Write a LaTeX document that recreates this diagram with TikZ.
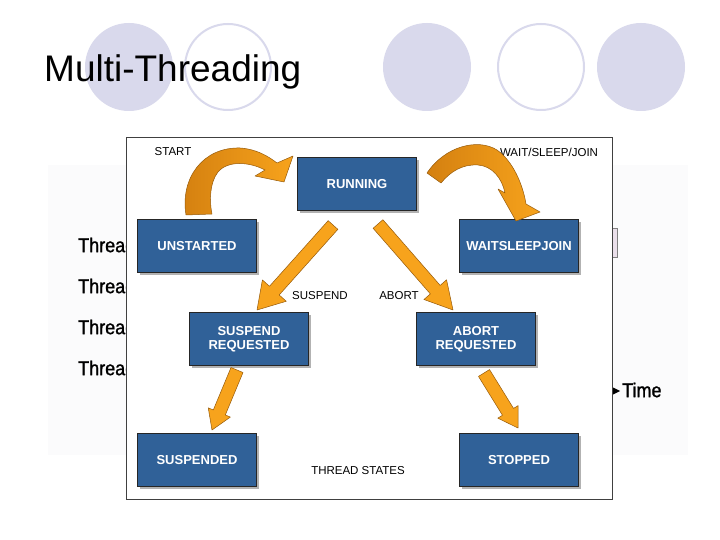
\documentclass[tikz,border=0pt]{standalone}
\usepackage{fontspec}
\setmainfont{Liberation Sans}
\newfontfamily\sidefont{Liberation Sans}[FakeBold=1.2, FakeStretch=0.9]
\usetikzlibrary{calc,shadows}
\definecolor{boxblue}{RGB}{48,97,152}
\definecolor{lav}{RGB}{217,217,236}
\definecolor{arrfillc}{RGB}{247,163,28}
\definecolor{arrdark}{RGB}{212,128,16}
\definecolor{arredge}{RGB}{150,90,10}
\definecolor{faintbg}{RGB}{251,251,252}
\newcommand{\blockarr}[5]{%
  \path ($(#2)!#5!(#1)$) coordinate (hb);
  \draw[blockarrow] ($(#1)!#3!90:(#2)$) -- ($(hb)!#3!90:(#2)$) -- ($(hb)!#4!90:(#2)$)
     -- (#2) -- ($(hb)!#4!-90:(#2)$) -- ($(hb)!#3!-90:(#2)$) -- ($(#1)!#3!-90:(#2)$) -- cycle;
}
\begin{document}
\begin{tikzpicture}[x=1pt,y=-1pt,
  statebox/.style={rectangle, minimum width=119pt, minimum height=53pt, fill=boxblue,
    draw=black!85, line width=1.4pt, text=white, align=center, inner sep=0pt,
    font=\bfseries\fontsize{13}{14}\selectfont,
    drop shadow={shadow xshift=2.5pt, shadow yshift=-2.5pt, fill=black, opacity=0.3}},
  lbl/.style={font=\fontsize{11.5}{13}\selectfont, inner sep=0pt},
  sidelbl/.style={font=\sidefont\fontsize{20}{22}\selectfont, inner sep=0pt, anchor=west},
  blockarrow/.style={fill=arrfillc, draw=arredge, line width=0.5pt, line join=round},
  curvearrow/.style={left color=arrdark, right color=arrfillc, draw=arredge, line width=0.5pt, line join=round},
  fullcirc/.style={fill=lav},
  opencirc/.style={draw=lav, line width=2pt, fill=white}]
\useasboundingbox (0,0) rectangle (720,540);
\fill[white] (0,0) rectangle (720,540);
% title circles
\fill[fullcirc] (129,67) circle[radius=44pt];
\draw[opencirc] (228,67) circle[radius=43pt];
\fill[fullcirc] (427,67) circle[radius=44pt];
\draw[opencirc] (541,67) circle[radius=43pt];
\fill[fullcirc] (641,67) circle[radius=44pt];
\node[anchor=base west, font=\fontsize{37}{40}\selectfont, inner sep=0pt] (title) at (44,82) {Multi-Threading};
% faint background picture
\fill[faintbg] (48,165) rectangle (688,455);
\node[sidelbl] (t1) at (78,245) {Thread};
\node[sidelbl] (t2) at (78,286) {Thread};
\node[sidelbl] (t3) at (78,327) {Thread};
\node[sidelbl] (t4) at (78,368) {Thread};
\node[sidelbl] (time) at (622,390) {Time};
\coordinate (tm) at (620,391);
\fill[black] (tm) -- ++(-7,-3.5) -- ++(0,7) -- cycle;
\filldraw[fill={rgb,255:red,234;green,223;blue,234}, draw=gray] (610,228) rectangle (617,257);
% diagram frame
\node[draw=black!75, line width=0.9pt, fill=white, minimum width=486pt, minimum height=362pt, inner sep=0pt] (frame) at (369,318) {};
% state boxes
\node[statebox] (running) at (357,184) {RUNNING};
\node[statebox] (unstarted) at (197,246) {UNSTARTED};
\node[statebox] (wait) at (519,246) {WAITSLEEPJOIN};
\node[statebox] (susreq) at (249,339) {SUSPEND\\REQUESTED};
\node[statebox] (abreq) at (476,339) {ABORT\\REQUESTED};
\node[statebox] (suspended) at (197,460) {SUSPENDED};
\node[statebox] (stopped) at (519,460) {STOPPED};
% labels
\node[lbl] (lstart) at (173,152) {START};
\node[lbl] (lwait) at (549,152) {WAIT/SLEEP/JOIN};
\node[lbl] (lsusp) at (320,296) {SUSPEND};
\node[lbl] (labort) at (399,296) {ABORT};
\node[lbl] (lstates) at (358,471) {THREAD STATES};
% curved arrows
\draw[curvearrow] (186,215) .. controls (180,178) and (203,147) .. (240,148)
  .. controls (256,149) and (268,156) .. (277,163) -- (293,156) -- (284,182) -- (255,176) -- (265,170)
  .. controls (250,162) and (228,160) .. (218,172) .. controls (210,182) and (209,200) .. (212,214) -- cycle;
\draw[curvearrow] (427,173) .. controls (445,146) and (478,138) .. (497,150)
  .. controls (513,161) and (523,185) .. (526,204) -- (540,212) -- (516,221) -- (498,189) -- (505,193)
  .. controls (502,178) and (492,166) .. (478,165) .. controls (462,164) and (450,172) .. (441,183) -- cycle;
% straight arrows
\coordinate (a1t) at (333,225); \coordinate (a1h) at (257,310);
\coordinate (a2t) at (378,224); \coordinate (a2h) at (453,310);
\coordinate (a3t) at (237,370); \coordinate (a3h) at (212,430);
\coordinate (a4t) at (484,373); \coordinate (a4h) at (518,428);
\blockarr{a1t}{a1h}{6.5pt}{16pt}{26pt}
\blockarr{a2t}{a2h}{6.5pt}{15pt}{27pt}
\blockarr{a3t}{a3h}{6.5pt}{12pt}{19pt}
\blockarr{a4t}{a4h}{6.5pt}{12pt}{19pt}
\end{tikzpicture}
\end{document}
